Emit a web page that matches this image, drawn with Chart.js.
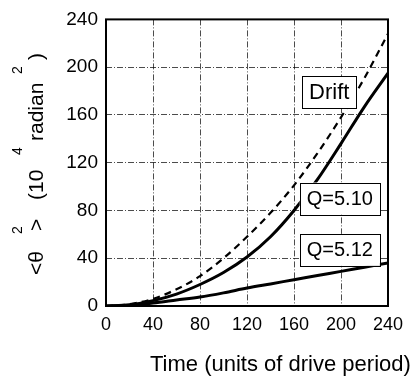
<!DOCTYPE html>
<html>
<head>
<meta charset="utf-8">
<script src="https://cdn.jsdelivr.net/npm/chart.js@4"></script>
<style>
  html, body { margin: 0; padding: 0; background: #fff; }
  #wrap { width: 412px; height: 378px; }
</style>
</head>
<body>
<div id="wrap"><canvas id="c" width="412" height="378"></canvas></div>
<script>
// Time in drive periods
const times = [0, 20, 40, 60, 80, 100, 120, 140, 160, 180, 200, 220, 240];
// <theta^2> in units of 10^4 radian^2
const drift = [0, 1.5, 6, 14, 25, 40, 58, 78, 101, 128, 158, 191, 228];
const q510  = [0, 1, 4.5, 10, 18, 28, 41, 58, 80, 106, 136, 167, 195];
const q512  = [0, 0.5, 2.5, 5, 7.5, 11, 15, 18.5, 22, 25.5, 29, 32.5, 36];

const tickValues = [0, 40, 80, 120, 160, 200, 240];

// Curve labels, anchored at data coordinates (box centre)
const labelTexts = ['Drift', 'Q=5.10', 'Q=5.12'];
const labelT = [190, 199, 199];
const labelV = [179, 90, 47];
const labelFontSizes = [22, 20, 20];

const FONT = '"Liberation Sans", Arimo, Arial, sans-serif';

const toPts = (ys) => times.map((t, i) => ({ x: t, y: ys[i] }));

const decorations = {
  id: 'decorations',
  afterDatasetsDraw(chart) {
    const { ctx, chartArea: a, scales: { x, y } } = chart;
    ctx.save();

    // plot frame
    ctx.strokeStyle = '#000';
    ctx.lineWidth = 2;
    ctx.setLineDash([]);
    ctx.strokeRect(a.left, a.top, a.right - a.left, a.bottom - a.top);

    // boxed curve labels
    ctx.textBaseline = 'middle';
    ctx.textAlign = 'center';
    labelTexts.forEach((txt, i) => {
      ctx.font = labelFontSizes[i] + 'px ' + FONT;
      const w = ctx.measureText(txt).width + 14;
      const h = 32;
      const cx = x.getPixelForValue(labelT[i]);
      const cy = y.getPixelForValue(labelV[i]);
      ctx.fillStyle = '#fff';
      ctx.fillRect(cx - w / 2, cy - h / 2, w, h);
      ctx.lineWidth = 1;
      ctx.strokeStyle = '#000';
      ctx.strokeRect(Math.round(cx - w / 2) + 0.5, Math.round(cy - h / 2) + 0.5, Math.round(w), Math.round(h));
      ctx.fillStyle = '#000';
      ctx.fillText(txt, cx, cy + 1);
    });

    // x axis title
    ctx.font = '22px ' + FONT;
    ctx.textAlign = 'left';
    ctx.textBaseline = 'alphabetic';
    ctx.fillText('Time (units of drive period)', 150, 371);

    // y axis title, rotated, with raised exponents
    ctx.translate(43, 275);
    ctx.rotate(-Math.PI / 2);
    const main = '21px ' + FONT;
    const sup = '14px ' + FONT;
    const parts = [
      ['<\u03b8', 0, main, 0],
      ['2', 41, sup, -21],
      ['>', 44, main, 0],
      ['(10', 75, main, 0],
      ['4', 120, sup, -21],
      ['radian', 134, main, 0],
      ['2', 201, sup, -21],
      [')', 215, main, 0]
    ];
    parts.forEach(([s, px, f, dy]) => {
      ctx.font = f;
      ctx.fillText(s, px, dy);
    });
    ctx.restore();
  }
};

new Chart(document.getElementById('c'), {
  type: 'line',
  data: {
    datasets: [
      {
        label: 'Drift',
        data: toPts(drift),
        borderColor: '#000',
        borderWidth: 2.2,
        borderDash: [7, 5],
        pointRadius: 0,
        fill: false,
        cubicInterpolationMode: 'monotone'
      },
      {
        label: 'Q=5.10',
        data: toPts(q510),
        borderColor: '#000',
        borderWidth: 3,
        pointRadius: 0,
        fill: false,
        cubicInterpolationMode: 'monotone'
      },
      {
        label: 'Q=5.12',
        data: toPts(q512),
        borderColor: '#000',
        borderWidth: 3,
        pointRadius: 0,
        fill: false,
        cubicInterpolationMode: 'monotone'
      }
    ]
  },
  options: {
    responsive: false,
    animation: false,
    devicePixelRatio: 1,
    layout: { padding: { left: 0, right: 24, top: 12, bottom: 0 } },
    plugins: { legend: { display: false }, tooltip: { enabled: false } },
    scales: {
      x: {
        type: 'linear',
        min: 0,
        max: 240,
        afterBuildTicks: (s) => { s.ticks = tickValues.map(v => ({ value: v })); },
        afterFit: (s) => { s.height = 72; },
        ticks: { color: '#000', font: { size: 18, family: FONT }, padding: 8, maxRotation: 0 },
        grid: { color: 'rgba(0,0,0,0.7)', lineWidth: 1, drawTicks: false },
        border: { display: false, dash: [6, 2, 1, 2] }
      },
      y: {
        type: 'linear',
        min: 0,
        max: 240,
        afterBuildTicks: (s) => { s.ticks = tickValues.map(v => ({ value: v })); },
        afterFit: (s) => { s.width = 106; },
        ticks: { color: '#000', font: { size: 19, family: FONT }, padding: 8 },
        grid: { color: 'rgba(0,0,0,0.7)', lineWidth: 1, drawTicks: false },
        border: { display: false, dash: [6, 2, 1, 2] }
      }
    }
  },
  plugins: [decorations]
});
</script>
</body>
</html>
